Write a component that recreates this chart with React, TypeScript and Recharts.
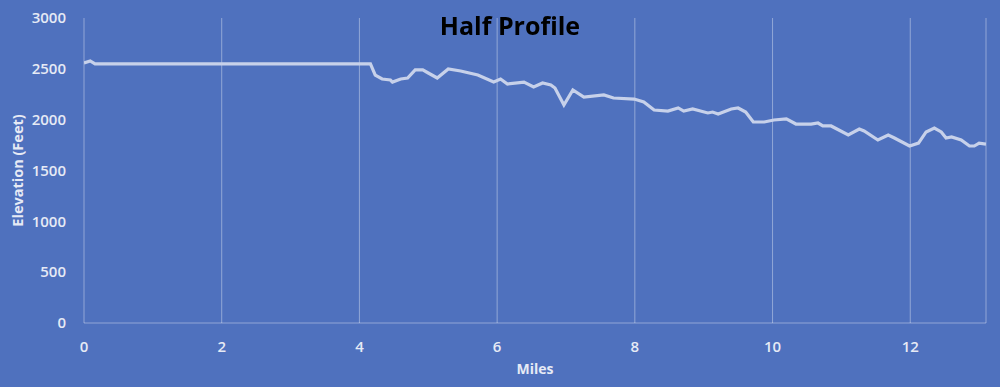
import React from "react";
import { LineChart, Line, XAxis, YAxis, CartesianGrid, Label } from "recharts";

const miles = [0, 0.09, 0.16, 4.16, 4.23, 4.33, 4.45, 4.48, 4.6, 4.7, 4.81, 4.92, 5.0, 5.13, 5.29, 5.47, 5.72, 5.95, 6.05, 6.15, 6.39, 6.53, 6.66, 6.78, 6.84, 6.97, 7.1, 7.26, 7.55, 7.69, 7.99, 8.13, 8.28, 8.48, 8.63, 8.71, 8.84, 9.06, 9.13, 9.21, 9.4, 9.5, 9.61, 9.72, 9.88, 10.02, 10.2, 10.34, 10.56, 10.66, 10.73, 10.85, 11.1, 11.26, 11.33, 11.53, 11.68, 11.77, 11.99, 12.12, 12.23, 12.35, 12.45, 12.52, 12.6, 12.74, 12.86, 12.93, 13.0, 13.1];
const elevation = [2557, 2577, 2548, 2548, 2439, 2400, 2390, 2370, 2400, 2410, 2489, 2489, 2459, 2410, 2498, 2479, 2439, 2370, 2400, 2351, 2370, 2321, 2361, 2341, 2311, 2144, 2292, 2223, 2243, 2213, 2203, 2174, 2095, 2085, 2115, 2085, 2105, 2066, 2075, 2056, 2105, 2115, 2075, 1977, 1977, 1997, 2007, 1957, 1957, 1967, 1938, 1938, 1849, 1908, 1889, 1800, 1849, 1820, 1741, 1770, 1879, 1918, 1879, 1820, 1830, 1800, 1741, 1741, 1770, 1760];
const xTicks = [0, 2, 4, 6, 8, 10, 12];
const yTicks = [0, 500, 1000, 1500, 2000, 2500, 3000];

const data = miles.map((m, i) => ({ mile: m, elev: elevation[i] }));

const FONT = "'Open Sans', 'Noto Sans', sans-serif";
const TEXT = "#e6eaf5";
const GRID = "rgba(255,255,255,0.38)";

export default function App() {
  return (
    <div style={{ position: "fixed", left: 0, top: 0, width: 1000, height: 387, background: "#4f71be", fontFamily: FONT }}>
      <LineChart width={1000} height={387} data={data} margin={{ top: 18, right: 14, bottom: 24, left: 0 }}>
        <CartesianGrid horizontal={false} vertical={true} stroke={GRID} strokeWidth={1} />
        <XAxis
          dataKey="mile"
          type="number"
          domain={[0, 13.1]}
          ticks={xTicks}
          allowDataOverflow
          height={40}
          axisLine={{ stroke: GRID, strokeWidth: 1 }}
          tickLine={false}
          tick={{ fill: TEXT, fontSize: 15, fontFamily: FONT, fontWeight: 600 }}
          tickMargin={12}
        >
          <Label value="Miles" position="insideBottom" offset={-11} fill={TEXT} fontSize={14} fontWeight={700} fontFamily={FONT} />
        </XAxis>
        <YAxis
          type="number"
          domain={[0, 3000]}
          ticks={yTicks}
          width={84}
          axisLine={false}
          tickLine={false}
          tick={{ fill: TEXT, fontSize: 15, fontFamily: FONT, fontWeight: 600 }}
          tickMargin={12}
        >
          <Label value="Elevation (Feet)" angle={-90} position="insideLeft" offset={18} fill={TEXT} fontSize={14.5} fontWeight={700} fontFamily={FONT} style={{ textAnchor: "middle" }} />
        </YAxis>
        <Line type="linear" dataKey="elev" stroke="#c7d1ea" strokeWidth={3.2} dot={false} isAnimationActive={false} />
      </LineChart>
      <div style={{ position: "absolute", left: 0, top: 8, width: 1020, textAlign: "center", fontSize: 25, fontWeight: 700, color: "#000", fontFamily: FONT, lineHeight: "34px" }}>
        Half Profile
      </div>
    </div>
  );
}
